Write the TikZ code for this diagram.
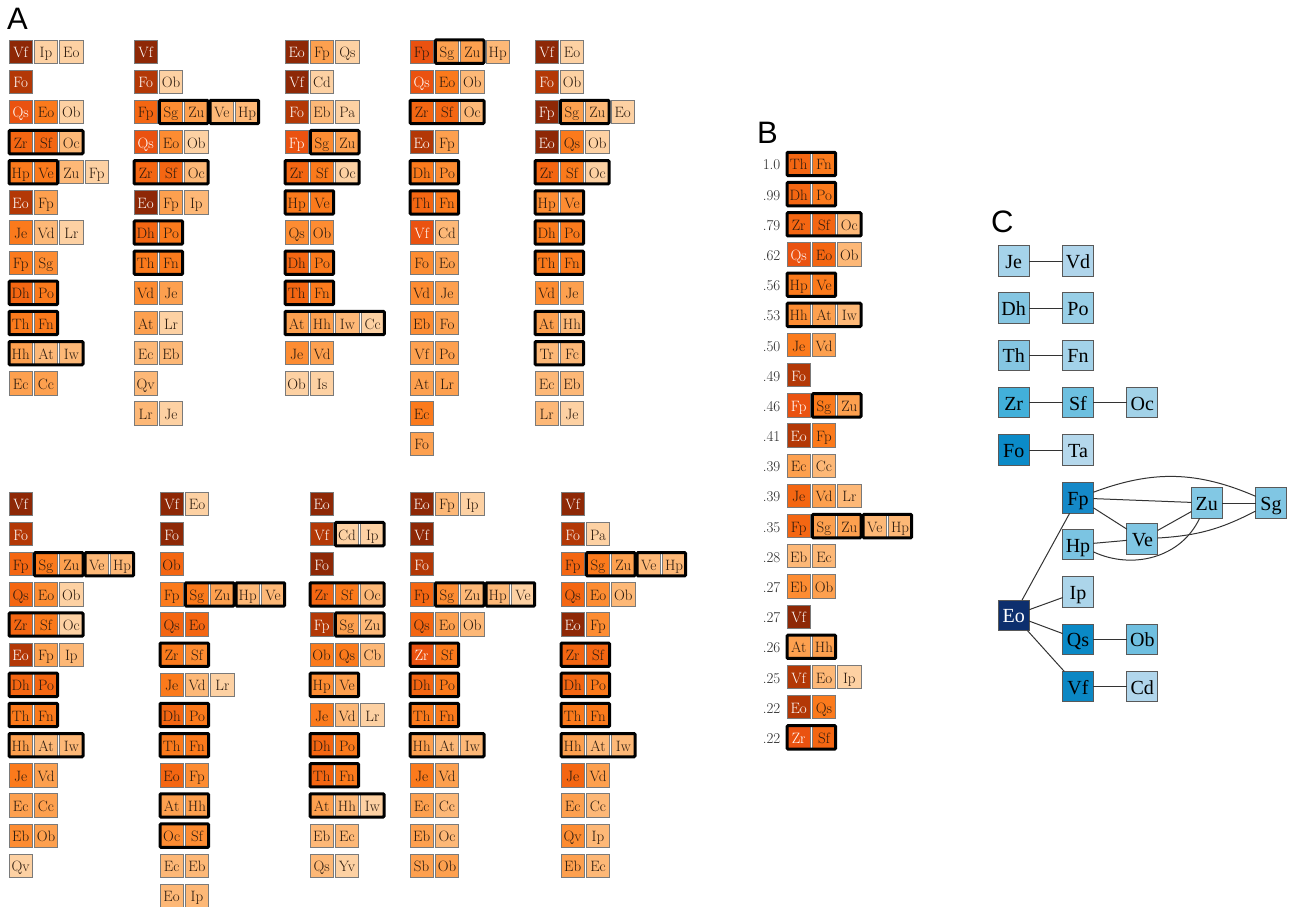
\documentclass[tikz,border=0pt]{standalone}
\usepackage{fontspec}
\newfontfamily\tms{Liberation Serif}
\newfontfamily\hlv{Liberation Sans}
\definecolor{ok1}{HTML}{FDD1A3}
\definecolor{ok2}{HTML}{FDB877}
\definecolor{ok3}{HTML}{FDA04F}
\definecolor{ok4}{HTML}{FD8C32}
\definecolor{ok5}{HTML}{FB7A1C}
\definecolor{ok6}{HTML}{F46612}
\definecolor{ok7}{HTML}{EA5210}
\definecolor{ok8}{HTML}{B33806}
\definecolor{ok9}{HTML}{8E2806}
\definecolor{txtd}{HTML}{2B1A0E}
\definecolor{cellb}{HTML}{7A7A7A}
\definecolor{cbJe}{HTML}{A5D3EA}
\definecolor{cbVd}{HTML}{B0D5EB}
\definecolor{cbDh}{HTML}{85C6E2}
\definecolor{cbPo}{HTML}{98CFE7}
\definecolor{cbTh}{HTML}{85C6E2}
\definecolor{cbFn}{HTML}{A3D2E9}
\definecolor{cbZr}{HTML}{42B0DA}
\definecolor{cbSf}{HTML}{6DC0E0}
\definecolor{cbOc}{HTML}{A2D2E8}
\definecolor{cbFo}{HTML}{0B8BC8}
\definecolor{cbTa}{HTML}{B5D8EC}
\definecolor{cbFp}{HTML}{1589C8}
\definecolor{cbZu}{HTML}{82C8E4}
\definecolor{cbSg}{HTML}{80C6E3}
\definecolor{cbVe}{HTML}{80C6E3}
\definecolor{cbHp}{HTML}{7BC4E2}
\definecolor{cbIp}{HTML}{ACD5EA}
\definecolor{cbEo}{HTML}{0D2F6E}
\definecolor{cbQs}{HTML}{0A89C6}
\definecolor{cbOb}{HTML}{6FBFE0}
\definecolor{cbVf}{HTML}{0B87C4}
\definecolor{cbCd}{HTML}{B1D6EC}
\def\pitch{30.15}
\newcommand\crow[5]{%
  \foreach [count=\i from 0] \s/\t in {#5}{%
    \node[\s] (#1-\i) at ({#2+\i*25.35+11.65},{#3+(#4-1)*\pitch+11.65}) {\t};}}
\newcommand\grp[3]{\draw[grp] (#1-#2.north west) rectangle (#1-#3.south east);}
\newcommand\brow[3]{%
  \node[num,anchor=base east] (bn#1) at (780.5,{152.3+(#1-1)*\pitch+17.65}) {#2};
  \crow{b#1}{787}{152.3}{#1}{#3}}
\begin{document}
\begin{tikzpicture}[x=1pt,y=-1pt,
  cell/.style={draw=cellb,line width=0.9pt,minimum width=23.3pt,minimum height=23.3pt,
    inner sep=0pt,outer sep=0pt,text height=12pt,text depth=0pt,
    font=\fontsize{15}{15}\selectfont,text=txtd},
  k1/.style={cell,fill=ok1},k2/.style={cell,fill=ok2},k3/.style={cell,fill=ok3},
  k4/.style={cell,fill=ok4},k5/.style={cell,fill=ok5},k6/.style={cell,fill=ok6},
  k7/.style={cell,fill=ok7},k7w/.style={cell,fill=ok7,text=white},
  k8/.style={cell,fill=ok8,text=white},k9/.style={cell,fill=ok9,text=white},
  grp/.style={draw=black,line width=3pt,rounded corners=1pt},
  num/.style={font=\fontsize{15}{15}\selectfont,inner sep=0pt,text=black!85},
  plabel/.style={font=\hlv\fontsize{31}{31}\selectfont,inner sep=0pt,anchor=base west},
  cn/.style={draw=black!65,line width=1pt,minimum width=30.7pt,minimum height=30.5pt,
    inner sep=0pt,outer sep=0pt,text height=15pt,text depth=0pt,
    font=\tms\fontsize{20}{20}\selectfont},
  ce/.style={draw=black!80,line width=1pt}]
\useasboundingbox (0,0) rectangle (1291,907);
\node[plabel] (LA) at (7,30) {A};
\node[plabel] (LB) at (757,143) {B};
\node[plabel] (LC) at (991,232) {C};
% ---------- top col 1
\crow{ta1}{9}{40}{1}{k9/Vf,k1/Ip,k1/Eo}
\crow{ta2}{9}{40}{2}{k8/Fo}
\crow{ta3}{9}{40}{3}{k7w/Qs,k5/Eo,k1/Ob}
\crow{ta4}{9}{40}{4}{k6/Zr,k6/Sf,k2/Oc}\grp{ta4}{0}{2}
\crow{ta5}{9}{40}{5}{k5/Hp,k5/Ve,k2/Zu,k1/Fp}\grp{ta5}{0}{1}
\crow{ta6}{9}{40}{6}{k8/Eo,k3/Fp}
\crow{ta7}{9}{40}{7}{k5/Je,k2/Vd,k1/Lr}
\crow{ta8}{9}{40}{8}{k5/Fp,k4/Sg}
\crow{ta9}{9}{40}{9}{k6/Dh,k5/Po}\grp{ta9}{0}{1}
\crow{ta10}{9}{40}{10}{k5/Th,k5/Fn}\grp{ta10}{0}{1}
\crow{ta11}{9}{40}{11}{k3/Hh,k2/At,k2/Iw}\grp{ta11}{0}{2}
\crow{ta12}{9}{40}{12}{k3/Ec,k3/Cc}
% ---------- top col 2
\crow{tb1}{134}{40}{1}{k9/Vf}
\crow{tb2}{134}{40}{2}{k8/Fo,k1/Ob}
\crow{tb3}{134}{40}{3}{k6/Fp,k4/Sg,k3/Zu,k2/Ve,k2/Hp}\grp{tb3}{1}{2}\grp{tb3}{3}{4}
\crow{tb4}{134}{40}{4}{k7w/Qs,k4/Eo,k1/Ob}
\crow{tb5}{134}{40}{5}{k6/Zr,k6/Sf,k2/Oc}\grp{tb5}{0}{2}
\crow{tb6}{134}{40}{6}{k9/Eo,k3/Fp,k2/Ip}
\crow{tb7}{134}{40}{7}{k6/Dh,k5/Po}\grp{tb7}{0}{1}
\crow{tb8}{134}{40}{8}{k5/Th,k5/Fn}\grp{tb8}{0}{1}
\crow{tb9}{134}{40}{9}{k4/Vd,k3/Je}
\crow{tb10}{134}{40}{10}{k3/At,k1/Lr}
\crow{tb11}{134}{40}{11}{k2/Ec,k2/Eb}
\crow{tb12}{134}{40}{12}{k2/Qv}
\crow{tb13}{134}{40}{13}{k2/Lr,k1/Je}
% ---------- top col 3
\crow{tc1}{285}{40}{1}{k9/Eo,k3/Fp,k1/Qs}
\crow{tc2}{285}{40}{2}{k9/Vf,k1/Cd}
\crow{tc3}{285}{40}{3}{k8/Fo,k2/Eb,k1/Pa}
\crow{tc4}{285}{40}{4}{k7w/Fp,k4/Sg,k3/Zu}\grp{tc4}{1}{2}
\crow{tc5}{285}{40}{5}{k6/Zr,k5/Sf,k1/Oc}\grp{tc5}{0}{2}
\crow{tc6}{285}{40}{6}{k5/Hp,k5/Ve}\grp{tc6}{0}{1}
\crow{tc7}{285}{40}{7}{k4/Qs,k4/Ob}
\crow{tc8}{285}{40}{8}{k6/Dh,k5/Po}\grp{tc8}{0}{1}
\crow{tc9}{285}{40}{9}{k6/Th,k5/Fn}\grp{tc9}{0}{1}
\crow{tc10}{285}{40}{10}{k3/At,k3/Hh,k2/Iw,k1/Cc}\grp{tc10}{0}{3}
\crow{tc11}{285}{40}{11}{k4/Je,k3/Vd}
\crow{tc12}{285}{40}{12}{k1/Ob,k1/Is}
% ---------- top col 4
\crow{td1}{410}{40}{1}{k7/Fp,k3/Sg,k3/Zu,k2/Hp}\grp{td1}{1}{2}
\crow{td2}{410}{40}{2}{k7w/Qs,k5/Eo,k2/Ob}
\crow{td3}{410}{40}{3}{k6/Zr,k6/Sf,k2/Oc}\grp{td3}{0}{2}
\crow{td4}{410}{40}{4}{k8/Eo,k3/Fp}
\crow{td5}{410}{40}{5}{k5/Dh,k4/Po}\grp{td5}{0}{1}
\crow{td6}{410}{40}{6}{k6/Th,k5/Fn}\grp{td6}{0}{1}
\crow{td7}{410}{40}{7}{k7w/Vf,k2/Cd}
\crow{td8}{410}{40}{8}{k4/Fo,k3/Eo}
\crow{td9}{410}{40}{9}{k4/Vd,k3/Je}
\crow{td10}{410}{40}{10}{k4/Eb,k3/Fo}
\crow{td11}{410}{40}{11}{k3/Vf,k3/Po}
\crow{td12}{410}{40}{12}{k3/At,k3/Lr}
\crow{td13}{410}{40}{13}{k5/Ec}
\crow{td14}{410}{40}{14}{k3/Fo}
% ---------- top col 5
\crow{te1}{535}{40}{1}{k9/Vf,k1/Eo}
\crow{te2}{535}{40}{2}{k8/Fo,k1/Ob}
\crow{te3}{535}{40}{3}{k9/Fp,k3/Sg,k2/Zu,k1/Eo}\grp{te3}{1}{2}
\crow{te4}{535}{40}{4}{k9/Eo,k5/Qs,k1/Ob}
\crow{te5}{535}{40}{5}{k6/Zr,k5/Sf,k1/Oc}\grp{te5}{0}{2}
\crow{te6}{535}{40}{6}{k4/Hp,k4/Ve}\grp{te6}{0}{1}
\crow{te7}{535}{40}{7}{k5/Dh,k5/Po}\grp{te7}{0}{1}
\crow{te8}{535}{40}{8}{k5/Th,k5/Fn}\grp{te8}{0}{1}
\crow{te9}{535}{40}{9}{k4/Vd,k3/Je}
\crow{te10}{535}{40}{10}{k3/At,k2/Hh}\grp{te10}{0}{1}
\crow{te11}{535}{40}{11}{k2/Tr,k2/Fc}\grp{te11}{0}{1}
\crow{te12}{535}{40}{12}{k2/Ec,k2/Eb}
\crow{te13}{535}{40}{13}{k2/Lr,k1/Je}
% ---------- bottom col 1
\crow{ba1}{9}{492.3}{1}{k9/Vf}
\crow{ba2}{9}{492.3}{2}{k8/Fo}
\crow{ba3}{9}{492.3}{3}{k6/Fp,k5/Sg,k3/Zu,k2/Ve,k2/Hp}\grp{ba3}{1}{2}\grp{ba3}{3}{4}
\crow{ba4}{9}{492.3}{4}{k6/Qs,k4/Eo,k1/Ob}
\crow{ba5}{9}{492.3}{5}{k6/Zr,k5/Sf,k1/Oc}\grp{ba5}{0}{2}
\crow{ba6}{9}{492.3}{6}{k8/Eo,k3/Fp,k2/Ip}
\crow{ba7}{9}{492.3}{7}{k6/Dh,k6/Po}\grp{ba7}{0}{1}
\crow{ba8}{9}{492.3}{8}{k5/Th,k5/Fn}\grp{ba8}{0}{1}
\crow{ba9}{9}{492.3}{9}{k3/Hh,k2/At,k2/Iw}\grp{ba9}{0}{2}
\crow{ba10}{9}{492.3}{10}{k5/Je,k3/Vd}
\crow{ba11}{9}{492.3}{11}{k3/Ec,k3/Cc}
\crow{ba12}{9}{492.3}{12}{k4/Eb,k3/Ob}
\crow{ba13}{9}{492.3}{13}{k1/Qv}
% ---------- bottom col 2
\crow{bb1}{160}{492.3}{1}{k9/Vf,k1/Eo}
\crow{bb2}{160}{492.3}{2}{k9/Fo}
\crow{bb3}{160}{492.3}{3}{k6/Ob}
\crow{bb4}{160}{492.3}{4}{k5/Fp,k5/Sg,k3/Zu,k2/Hp,k2/Ve}\grp{bb4}{1}{2}\grp{bb4}{3}{4}
\crow{bb5}{160}{492.3}{5}{k6/Qs,k6/Eo}
\crow{bb6}{160}{492.3}{6}{k5/Zr,k4/Sf}\grp{bb6}{0}{1}
\crow{bb7}{160}{492.3}{7}{k5/Je,k2/Vd,k1/Lr}
\crow{bb8}{160}{492.3}{8}{k6/Dh,k5/Po}\grp{bb8}{0}{1}
\crow{bb9}{160}{492.3}{9}{k5/Th,k5/Fn}\grp{bb9}{0}{1}
\crow{bb10}{160}{492.3}{10}{k6/Eo,k4/Fp}
\crow{bb11}{160}{492.3}{11}{k3/At,k3/Hh}\grp{bb11}{0}{1}
\crow{bb12}{160}{492.3}{12}{k4/Oc,k4/Sf}\grp{bb12}{0}{1}
\crow{bb13}{160}{492.3}{13}{k2/Ec,k2/Eb}
\crow{bb14}{160}{492.3}{14}{k2/Eo,k2/Ip}
% ---------- bottom col 3
\crow{bc1}{310}{492.3}{1}{k9/Eo}
\crow{bc2}{310}{492.3}{2}{k8/Vf,k1/Cd,k1/Ip}\grp{bc2}{1}{2}
\crow{bc3}{310}{492.3}{3}{k9/Fo}
\crow{bc4}{310}{492.3}{4}{k6/Zr,k5/Sf,k2/Oc}\grp{bc4}{0}{2}
\crow{bc5}{310}{492.3}{5}{k8/Fp,k3/Sg,k2/Zu}\grp{bc5}{1}{2}
\crow{bc6}{310}{492.3}{6}{k5/Ob,k5/Qs,k2/Cb}
\crow{bc7}{310}{492.3}{7}{k4/Hp,k3/Ve}\grp{bc7}{0}{1}
\crow{bc8}{310}{492.3}{8}{k5/Je,k2/Vd,k1/Lr}
\crow{bc9}{310}{492.3}{9}{k6/Dh,k5/Po}\grp{bc9}{0}{1}
\crow{bc10}{310}{492.3}{10}{k6/Th,k5/Fn}\grp{bc10}{0}{1}
\crow{bc11}{310}{492.3}{11}{k3/At,k2/Hh,k1/Iw}\grp{bc11}{0}{2}
\crow{bc12}{310}{492.3}{12}{k2/Eb,k2/Ec}
\crow{bc13}{310}{492.3}{13}{k2/Qs,k1/Yv}
% ---------- bottom col 4
\crow{bd1}{410}{492.3}{1}{k9/Eo,k2/Fp,k1/Ip}
\crow{bd2}{410}{492.3}{2}{k9/Vf}
\crow{bd3}{410}{492.3}{3}{k8/Fo}
\crow{bd4}{410}{492.3}{4}{k6/Fp,k4/Sg,k2/Zu,k2/Hp,k1/Ve}\grp{bd4}{1}{2}\grp{bd4}{3}{4}
\crow{bd5}{410}{492.3}{5}{k6/Qs,k3/Eo,k2/Ob}
\crow{bd6}{410}{492.3}{6}{k7w/Zr,k5/Sf}\grp{bd6}{0}{1}
\crow{bd7}{410}{492.3}{7}{k6/Dh,k5/Po}\grp{bd7}{0}{1}
\crow{bd8}{410}{492.3}{8}{k5/Th,k5/Fn}\grp{bd8}{0}{1}
\crow{bd9}{410}{492.3}{9}{k3/Hh,k2/At,k2/Iw}\grp{bd9}{0}{2}
\crow{bd10}{410}{492.3}{10}{k5/Je,k3/Vd}
\crow{bd11}{410}{492.3}{11}{k3/Ec,k2/Cc}
\crow{bd12}{410}{492.3}{12}{k3/Eb,k2/Oc}
\crow{bd13}{410}{492.3}{13}{k3/Sb,k3/Ob}
% ---------- bottom col 5
\crow{be1}{561}{492.3}{1}{k9/Vf}
\crow{be2}{561}{492.3}{2}{k8/Fo,k1/Pa}
\crow{be3}{561}{492.3}{3}{k6/Fp,k5/Sg,k3/Zu,k2/Ve,k2/Hp}\grp{be3}{1}{2}\grp{be3}{3}{4}
\crow{be4}{561}{492.3}{4}{k6/Qs,k4/Eo,k2/Ob}
\crow{be5}{561}{492.3}{5}{k9/Eo,k4/Fp}
\crow{be6}{561}{492.3}{6}{k6/Zr,k6/Sf}\grp{be6}{0}{1}
\crow{be7}{561}{492.3}{7}{k6/Dh,k5/Po}\grp{be7}{0}{1}
\crow{be8}{561}{492.3}{8}{k5/Th,k5/Fn}\grp{be8}{0}{1}
\crow{be9}{561}{492.3}{9}{k3/Hh,k2/At,k2/Iw}\grp{be9}{0}{2}
\crow{be10}{561}{492.3}{10}{k6/Je,k3/Vd}
\crow{be11}{561}{492.3}{11}{k3/Ec,k2/Cc}
\crow{be12}{561}{492.3}{12}{k4/Qv,k2/Ip}
\crow{be13}{561}{492.3}{13}{k3/Eb,k2/Ec}
% ---------- panel B
\def\pitch{30.18}
\brow{1}{1.0}{k6/Th,k5/Fn}\grp{b1}{0}{1}
\brow{2}{.99}{k6/Dh,k5/Po}\grp{b2}{0}{1}
\brow{3}{.79}{k6/Zr,k6/Sf,k2/Oc}\grp{b3}{0}{2}
\brow{4}{.62}{k7w/Qs,k6/Eo,k2/Ob}
\brow{5}{.56}{k5/Hp,k5/Ve}\grp{b5}{0}{1}
\brow{6}{.53}{k4/Hh,k3/At,k2/Iw}\grp{b6}{0}{2}
\brow{7}{.50}{k5/Je,k3/Vd}
\brow{8}{.49}{k8/Fo}
\brow{9}{.46}{k7w/Fp,k5/Sg,k3/Zu}\grp{b9}{1}{2}
\brow{10}{.41}{k8/Eo,k5/Fp}
\brow{11}{.39}{k3/Ec,k2/Cc}
\brow{12}{.39}{k6/Je,k3/Vd,k2/Lr}
\brow{13}{.35}{k6/Fp,k3/Sg,k3/Zu,k2/Ve,k2/Hp}\grp{b13}{1}{2}\grp{b13}{3}{4}
\brow{14}{.28}{k2/Eb,k2/Ec}
\brow{15}{.27}{k4/Eb,k3/Ob}
\brow{16}{.27}{k9/Vf}
\brow{17}{.26}{k3/At,k3/Hh}\grp{b17}{0}{1}
\brow{18}{.25}{k8/Vf,k2/Eo,k1/Ip}
\brow{19}{.22}{k8/Eo,k5/Qs}
\brow{20}{.22}{k7w/Zr,k6/Sf}\grp{b20}{0}{1}
% ---------- panel C
\node[cn,fill=cbJe] (CJe) at (1013.7,261) {Je};
\node[cn,fill=cbVd] (CVd) at (1078,261) {Vd};
\node[cn,fill=cbDh] (CDh) at (1013.7,308) {Dh};
\node[cn,fill=cbPo] (CPo) at (1078,308) {Po};
\node[cn,fill=cbTh] (CTh) at (1013.7,355.3) {Th};
\node[cn,fill=cbFn] (CFn) at (1078,355.3) {Fn};
\node[cn,fill=cbZr] (CZr) at (1013.7,402.7) {Zr};
\node[cn,fill=cbSf] (CSf) at (1078,402.7) {Sf};
\node[cn,fill=cbOc] (COc) at (1142.3,402.7) {Oc};
\node[cn,fill=cbFo] (CFo) at (1013.7,450) {Fo};
\node[cn,fill=cbTa] (CTa) at (1078,450) {Ta};
\node[cn,fill=cbFp] (CFp) at (1078,498) {Fp};
\node[cn,fill=cbZu] (CZu) at (1206.7,503) {Zu};
\node[cn,fill=cbSg] (CSg) at (1271,503) {Sg};
\node[cn,fill=cbVe] (CVe) at (1142.3,539) {Ve};
\node[cn,fill=cbHp] (CHp) at (1078,544.7) {Hp};
\node[cn,fill=cbIp] (CIp) at (1078,592) {Ip};
\node[cn,fill=cbEo,text=white] (CEo) at (1013.7,615.3) {Eo};
\node[cn,fill=cbQs] (CQs) at (1078,639.3) {Qs};
\node[cn,fill=cbOb] (COb) at (1142.3,639.3) {Ob};
\node[cn,fill=cbVf] (CVf) at (1078,686.7) {Vf};
\node[cn,fill=cbCd] (CCd) at (1142.3,686.7) {Cd};
\draw[ce] (CJe) -- (CVd);
\draw[ce] (CDh) -- (CPo);
\draw[ce] (CTh) -- (CFn);
\draw[ce] (CZr) -- (CSf);
\draw[ce] (CSf) -- (COc);
\draw[ce] (CFo) -- (CTa);
\draw[ce] (CFp) -- (CZu);
\draw[ce] (CFp) to[bend left=22] (CSg);
\draw[ce] (CFp) -- (CVe);
\draw[ce] (CZu) -- (CSg);
\draw[ce] (CVe) -- (CZu);
\draw[ce] (CVe) to[bend right=12] (CSg);
\draw[ce] (CHp) -- (CVe);
\draw[ce] (CHp) to[out=-25,in=-115] (CZu);
\draw[ce] (CEo) -- (CFp);
\draw[ce] (CEo) -- (CIp);
\draw[ce] (CEo) -- (CQs);
\draw[ce] (CEo) -- (CVf);
\draw[ce] (CQs) -- (COb);
\draw[ce] (CVf) -- (CCd);
\end{tikzpicture}
\end{document}
